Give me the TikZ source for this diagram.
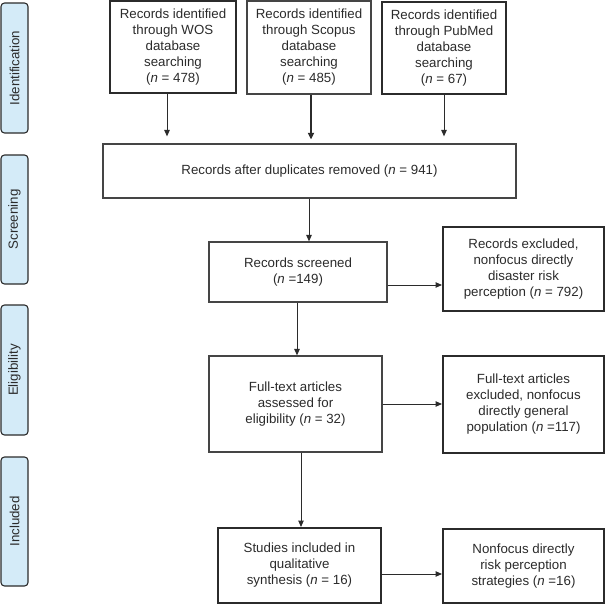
\documentclass[tikz,border=0pt]{standalone}
\usepackage{fontspec}
\setmainfont{Liberation Sans}
\usetikzlibrary{arrows.meta}
\definecolor{sidefill}{HTML}{D4EBF8}
\definecolor{ink}{HTML}{2B2B2B}
\definecolor{thinink}{HTML}{454545}
\tikzset{
  base/.style={rectangle, align=center, inner sep=0pt, text=ink,
    font=\fontsize{13.3}{16}\selectfont},
  thickbox/.style={base, draw=ink, line width=2pt},
  thinbox/.style={base, draw=thinink, line width=1.2pt},
  side/.style={rectangle, rounded corners=3.5pt, draw=ink, line width=1.1pt,
    fill=sidefill, text=ink, inner sep=0pt, minimum width=27pt,
    font=\fontsize{13.3}{16}\selectfont},
  arr/.style={draw=ink, line width=1pt, -{Triangle[length=6.5pt,width=5.5pt]}},
  arrthick/.style={draw=ink, line width=1.8pt, -{Triangle[length=6.5pt,width=6pt]}}
}
\newcommand{\nn}{\textit{n}}
\begin{document}
\begin{tikzpicture}[x=1pt,y=-1pt]
\useasboundingbox (0,0) rectangle (606,605);

% side labels
\node[side, minimum height=130pt] (sid) at (14.5,68) {\rotatebox{90}{Identification}};
\node[side, minimum height=129pt] (sscr) at (14.5,219.5) {\rotatebox{90}{Screening}};
\node[side, minimum height=130pt] (selig) at (14.5,370) {\rotatebox{90}{Eligibility}};
\node[side, minimum height=129pt] (sinc) at (14.5,521.5) {\rotatebox{90}{Included}};

% identification boxes
\node[thickbox, minimum width=126pt, minimum height=92pt] (wos) at (173,47)
  {Records identified\\through WOS\\database\\searching\\ (\nn{} = 478)};
\node[thinbox, minimum width=124pt, minimum height=93pt] (scopus) at (309,47.5)
  {Records identified\\through Scopus\\database\\searching\\ (\nn{} = 485)};
\node[thickbox, minimum width=124pt, minimum height=92pt] (pubmed) at (444,48)
  {Records identified\\through PubMed\\database\\searching\\ (\nn{} = 67)};

\node[thinbox, minimum width=413pt, minimum height=54pt] (dup) at (309.5,171)
  {Records after duplicates removed (\nn{} = 941)};

\node[thinbox, minimum width=178pt, minimum height=60pt] (scr) at (298,272)
  {Records screened\\(\nn{} =149)};
\node[thickbox, minimum width=161pt, minimum height=84pt] (exc1) at (523.5,269)
  {Records excluded,\\nonfocus directly\\disaster risk\\perception (\nn{} = 792)};

\node[thinbox, minimum width=173pt, minimum height=96pt] (full) at (295.5,404)
  {Full-text articles\\assessed for\\eligibility (\nn{} = 32)};
\node[thickbox, minimum width=161pt, minimum height=97pt] (exc2) at (523.5,404.5)
  {Full-text articles\\excluded, nonfocus\\directly general\\population (\nn{} =117)};

\node[thickbox, minimum width=163pt, minimum height=75pt] (stud) at (299.5,565.5)
  {Studies included in\\qualitative\\synthesis (\nn{} = 16)};
\node[thickbox, minimum width=161pt, minimum height=74pt] (nonf) at (523.5,566)
  {Nonfocus directly\\risk perception\\strategies (\nn{} =16)};

% connectors
\draw[arr, shorten >=7pt] (wos.south -| 167,0) -- (dup.north -| 167,0);
\draw[arrthick, shorten >=4pt] (scopus.south -| 311,0) -- (dup.north -| 311,0);
\draw[arr, shorten >=7pt] (pubmed.south) -- (dup.north -| pubmed.south);
\draw[arr] (dup.south -| 309,0) -- (scr.north -| 309,0);
\draw[arr] (scr.east |- 0,285) -- (exc1.west |- 0,285);
\draw[arr] (scr.south -| 297,0) -- (full.north -| 297,0);
\draw[arr] (full.east) -- (exc2.west |- full.east);
\draw[arr] (full.south -| 301,0) -- (stud.north -| 301,0);
\draw[arr] (stud.east |- 0,574) -- (nonf.west |- 0,574);
\end{tikzpicture}
\end{document}
